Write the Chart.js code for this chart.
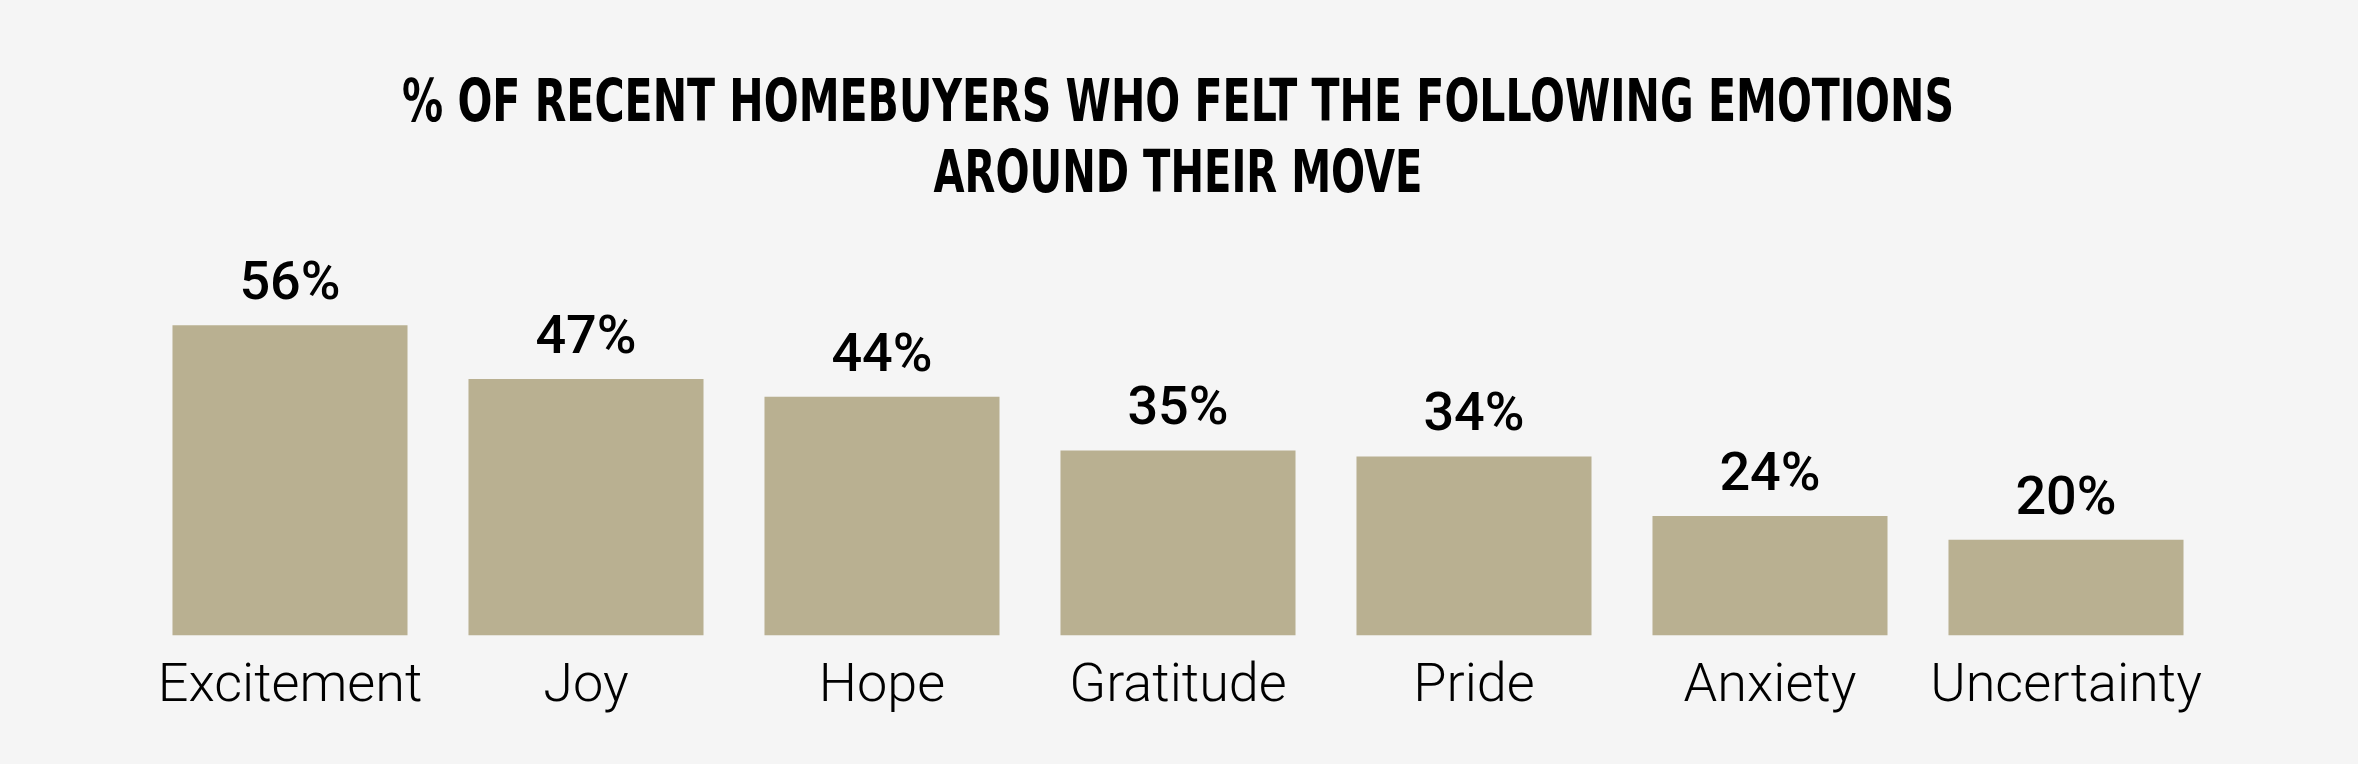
<!DOCTYPE html>
<html lang="en">

<head>
    <meta charset="UTF-8">
    <title>Homebuyer Emotions</title>
    <script src="https://cdn.jsdelivr.net/npm/chart.js"></script>
    <style>
        html, body {
            margin: 0;
            padding: 0;
            background: #f5f5f5;
        }

        #chart-wrap {
            position: relative;
            width: 2358px;
            height: 764px;
        }
    </style>
</head>

<body>
    <div id="chart-wrap">
        <canvas id="emotionsChart"></canvas>
    </div>

    <script>
        // data
        var emotions = ['Excitement', 'Joy', 'Hope', 'Gratitude', 'Pride', 'Anxiety', 'Uncertainty'];
        var percentFelt = [56, 47, 44, 35, 34, 24, 20];
        var titleLines = ['% OF RECENT HOMEBUYERS WHO FELT THE FOLLOWING EMOTIONS', 'AROUND THEIR MOVE'];

        // title drawn by hand so it can be squeezed like a condensed face
        var titlePlugin = {
            id: 'condensedTitle',
            afterDraw: function (chart) {
                var ctx = chart.ctx;
                var cx = (chart.chartArea.left + chart.chartArea.right) / 2;
                ctx.save();
                ctx.fillStyle = '#000';
                ctx.textAlign = 'center';
                ctx.textBaseline = 'alphabetic';
                ctx.font = 'bold 58px "Liberation Sans Narrow", "DejaVu Sans Condensed", "Roboto", sans-serif';
                ctx.fillText(titleLines[0], cx, 121, 1552);
                ctx.fillText(titleLines[1], cx, 192, 489);
                ctx.restore();
            }
        };

        // percentage above each bar
        var valueLabels = {
            id: 'valueLabels',
            afterDatasetsDraw: function (chart) {
                var ctx = chart.ctx;
                var meta = chart.getDatasetMeta(0);
                ctx.save();
                ctx.fillStyle = '#000';
                ctx.textAlign = 'center';
                ctx.textBaseline = 'alphabetic';
                ctx.font = '500 54px Roboto, sans-serif';
                meta.data.forEach(function (bar, i) {
                    ctx.fillText(percentFelt[i] + '%', bar.x, bar.y - 26);
                });
                ctx.restore();
            }
        };

        var emotionsChart = new Chart(document.getElementById('emotionsChart'), {
            type: 'bar',
            data: {
                labels: emotions,
                datasets: [{
                    data: percentFelt,
                    backgroundColor: '#b9b091',
                    borderWidth: 0,
                    categoryPercentage: 1,
                    barPercentage: 0.794
                }]
            },
            options: {
                responsive: true,
                maintainAspectRatio: false,
                animation: false,
                layout: {
                    padding: { top: 230, left: 142, right: 144, bottom: 24 }
                },
                plugins: {
                    legend: { display: false },
                    tooltip: { enabled: false }
                },
                scales: {
                    x: {
                        grid: { display: false, drawTicks: false },
                        border: { display: false },
                        ticks: {
                            color: '#000',
                            padding: 20,
                            maxRotation: 0,
                            font: { family: 'Roboto', size: 54, weight: '300' }
                        }
                    },
                    y: {
                        display: false,
                        min: 4,
                        max: 72
                    }
                }
            },
            plugins: [titlePlugin, valueLabels]
        });
    </script>
</body>

</html>
